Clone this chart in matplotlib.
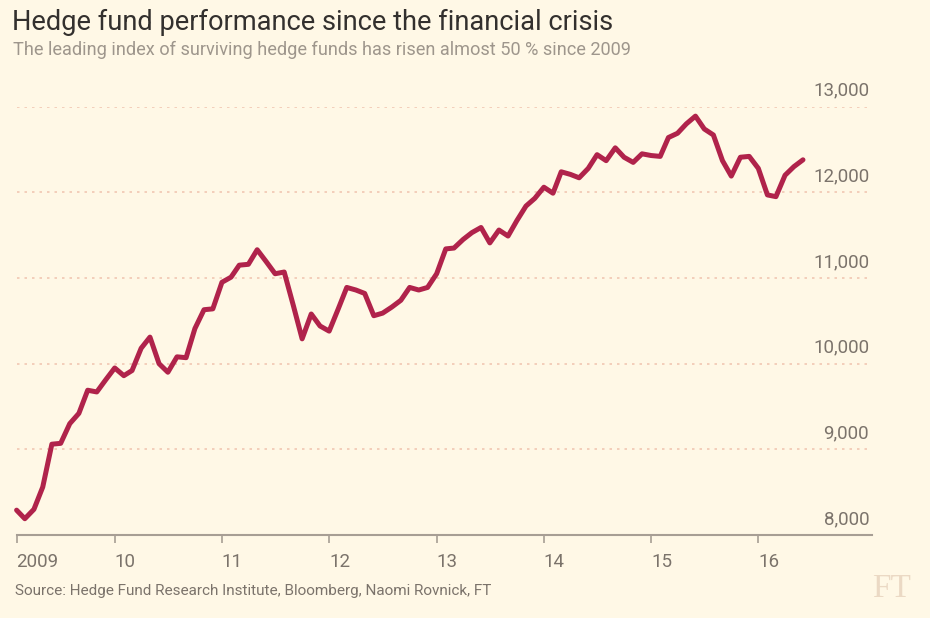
import pandas as pd
import numpy as np
import matplotlib
matplotlib.use("Agg")
import matplotlib.pyplot as plt

# monthly index level, Feb 2009 - Jun 2016
index_values = [
    8290, 8190, 8300, 8560, 9060, 9070, 9300, 9420, 9690, 9670, 9810,
    9950, 9860, 9920, 10180, 10310, 10000, 9900, 10080, 10070, 10410, 10630,
    10640, 10950, 11010, 11150, 11160, 11330, 11190, 11050, 11070, 10680, 10290,
    10580, 10440, 10380, 10640, 10890, 10860, 10820, 10560, 10590, 10660, 10740,
    10890, 10860, 10890, 11050, 11340, 11350, 11450, 11530, 11590, 11410, 11560,
    11490, 11670, 11840, 11930, 12060, 11990, 12240, 12210, 12170, 12280, 12440,
    12370, 12520, 12410, 12350, 12450, 12430, 12420, 12640, 12690, 12800, 12890,
    12740, 12670, 12370, 12190, 12410, 12420, 12280, 11970, 11950, 12200, 12300,
    12380,
]
start_month = "2009-02-01"
year_ticks = ["2009-02-01", "2010-01-01", "2011-01-01", "2012-01-01",
              "2013-01-01", "2014-01-01", "2015-01-01", "2016-01-01"]
year_labels = ["2009", "10", "11", "12", "13", "14", "15", "16"]
y_ticks = [8000, 9000, 10000, 11000, 12000, 13000]

title = "Hedge fund performance since the financial crisis"
subtitle = "The leading index of surviving hedge funds has risen almost 50 % since 2009"
source = "Source: Hedge Fund Research Institute, Bloomberg, Naomi Rovnick, FT"

BG = "#FFF8E6"
LINE = "#B0234B"
AXIS = "#A79E94"
GRID = "#F1C7B3"
TEXT = "#7B736B"
FONT = ["Roboto", "DejaVu Sans"]

dates = pd.date_range(start_month, periods=len(index_values), freq="MS")

fig = plt.figure(figsize=(9.3, 6.18), dpi=100, facecolor=BG)
ax = fig.add_axes([16.6 / 930, 1 - 535 / 618, (872 - 16.6) / 930, (535 - 106.7) / 618])
ax.set_facecolor(BG)

ax.plot(dates, index_values, color=LINE, linewidth=3.6, solid_joinstyle="round",
        solid_capstyle="round", clip_on=False, zorder=3)

ax.set_xlim(pd.Timestamp(start_month), pd.Timestamp("2017-01-22"))
ax.set_ylim(8000, 13000)

for s in ["top", "right", "left"]:
    ax.spines[s].set_visible(False)
ax.spines["bottom"].set_color(AXIS)
ax.spines["bottom"].set_linewidth(1.5)

ax.set_xticks(pd.to_datetime(year_ticks))
ax.set_xticklabels(year_labels, ha="left", fontsize=13.5, color=TEXT, family=FONT)
ax.tick_params(axis="x", length=6, width=1.2, color=AXIS, pad=7)
ax.set_yticks([])

for v in y_ticks:
    if v > 8000:
        ax.axhline(v, color=GRID, linewidth=1.2, linestyle=(0, (1.5, 3)), zorder=1)
    ax.annotate(f"{v:,}", xy=(1, v), xycoords=("axes fraction", "data"),
                xytext=(-2, 5), textcoords="offset points", ha="right", va="bottom",
                fontsize=13.5, color=TEXT, family=FONT, annotation_clip=False)

fig.text(12 / 930, 1 - 22 / 618, title, fontsize=19.6, color="#33302E", family=FONT, va="center")
fig.text(13 / 930, 1 - 50 / 618, subtitle, fontsize=13.1, color="#9E968C", family=FONT, va="center")
fig.text(15 / 930, 1 - 591 / 618, source, fontsize=11, color=TEXT, family=FONT, va="center")
fig.text(911 / 930, 1 - 589 / 618, "FT", fontsize=24, color="#EBD9C4",
         family=["Liberation Serif", "DejaVu Serif"], ha="right", va="center")

fig.savefig("out.png", dpi=100, facecolor=BG)
